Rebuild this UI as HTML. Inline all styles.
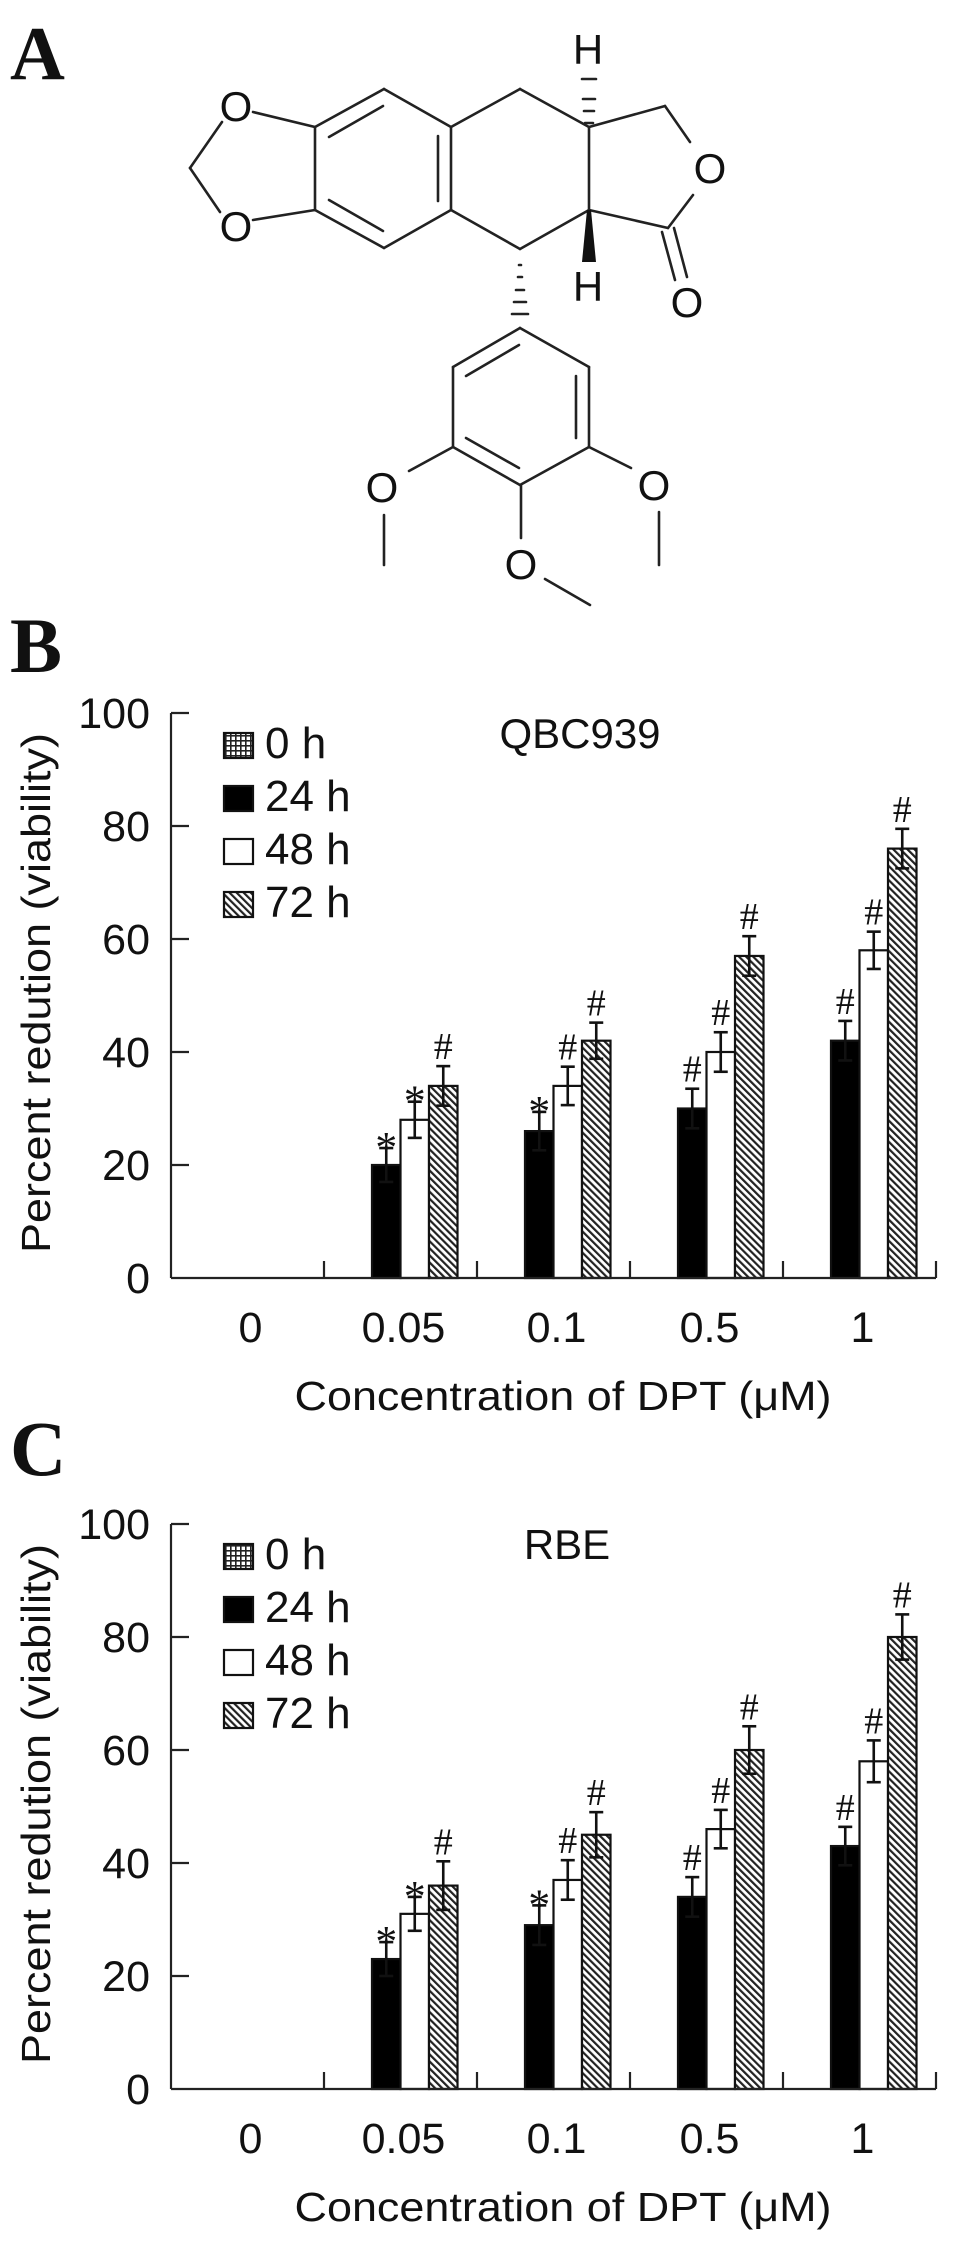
<!DOCTYPE html>
<html><head><meta charset="utf-8"><style>
html,body{margin:0;padding:0;background:#fff;}
svg{display:block;}
text{font-family:"Liberation Sans",Arial,sans-serif;fill:#111;}
.serif{font-family:"Liberation Serif","Times New Roman",serif;}
</style></head><body>
<svg id="fig" width="969" height="2256" viewBox="0 0 969 2256" xmlns="http://www.w3.org/2000/svg">
<defs>
<pattern id="hatch" patternUnits="userSpaceOnUse" width="5" height="5" patternTransform="rotate(-45)">
<rect width="5" height="5" fill="#fff"/><rect width="2.2" height="5" fill="#222"/>
</pattern>
<pattern id="grid" patternUnits="userSpaceOnUse" width="5" height="5">
<rect width="5" height="5" fill="#fff"/><rect width="5" height="1.6" fill="#222"/><rect width="1.6" height="5" fill="#222"/>
</pattern>
</defs>

<text class="serif" x="10" y="79" font-size="76" font-weight="bold">A</text>
<g stroke="#222" stroke-width="2.6" fill="none" stroke-linecap="round">
<line x1="253" y1="112" x2="315" y2="127"/>
<line x1="253" y1="220" x2="315" y2="210"/>
<line x1="222" y1="122" x2="190" y2="168"/>
<line x1="190" y1="168" x2="220" y2="212"/>
<line x1="315" y1="127" x2="384" y2="89"/>
<line x1="384" y1="89" x2="451" y2="127"/>
<line x1="451" y1="127" x2="451" y2="210"/>
<line x1="451" y1="210" x2="384" y2="248"/>
<line x1="384" y1="248" x2="315" y2="210"/>
<line x1="315" y1="210" x2="315" y2="127"/>
<line x1="329" y1="137" x2="383" y2="106"/>
<line x1="438" y1="136" x2="438" y2="201"/>
<line x1="329" y1="200" x2="383" y2="231"/>
<line x1="451" y1="127" x2="520" y2="89"/>
<line x1="520" y1="89" x2="589" y2="127"/>
<line x1="589" y1="127" x2="589" y2="210"/>
<line x1="589" y1="210" x2="520" y2="249"/>
<line x1="520" y1="249" x2="451" y2="210"/>
<line x1="589" y1="127" x2="665" y2="106"/>
<line x1="665" y1="106" x2="690" y2="142"/>
<line x1="693" y1="195" x2="668" y2="228"/>
<line x1="668" y1="228" x2="589" y2="210"/>
<line x1="662" y1="232" x2="675" y2="280"/>
<line x1="674" y1="228" x2="687" y2="277"/>
<line x1="520" y1="328" x2="453" y2="367"/>
<line x1="520" y1="328" x2="589" y2="367"/>
<line x1="589" y1="367" x2="589" y2="447"/>
<line x1="589" y1="447" x2="520" y2="485"/>
<line x1="520" y1="485" x2="453" y2="447"/>
<line x1="453" y1="447" x2="453" y2="367"/>
<line x1="466" y1="376" x2="519" y2="345"/>
<line x1="576" y1="376" x2="576" y2="438"/>
<line x1="466" y1="438" x2="519" y2="468"/>
<line x1="453" y1="447" x2="409" y2="471"/>
<line x1="589" y1="447" x2="631" y2="468"/>
<line x1="521" y1="485" x2="521" y2="538"/>
<line x1="384" y1="515" x2="384" y2="565"/>
<line x1="659" y1="512" x2="659" y2="565"/>
<line x1="545" y1="579" x2="590" y2="605"/>
<line x1="585" y1="123" x2="593" y2="123"/>
<line x1="584" y1="111" x2="594" y2="111"/>
<line x1="583" y1="99" x2="595" y2="99"/>
<line x1="582" y1="79" x2="596" y2="79"/>
<line x1="519" y1="265" x2="521" y2="265"/>
<line x1="518" y1="277" x2="522" y2="277"/>
<line x1="516" y1="290" x2="524" y2="290"/>
<line x1="514" y1="302" x2="526" y2="302"/>
<line x1="512" y1="314" x2="528" y2="314"/>
</g>
<polygon points="587,210 591,210 596,262 582,262" fill="#111"/>
<g font-size="42" text-anchor="middle">
<text x="236" y="121">O</text>
<text x="236" y="241">O</text>
<text x="710" y="183">O</text>
<text x="687" y="317">O</text>
<text x="588" y="64">H</text>
<text x="588" y="301">H</text>
<text x="382" y="502">O</text>
<text x="654" y="500">O</text>
<text x="521" y="579">O</text>
</g>

<g id="chartB"></g>
<g id="chartC"></g>
</svg>
<script>
const categories = ["0", "0.05", "0.1", "0.5", "1"];
const seriesNames = ["0 h", "24 h", "48 h", "72 h"];
const yTicks = [0, 20, 40, 60, 80, 100];
const qbc0h = [0, 0, 0, 0, 0];
const qbc24h = [0, 20, 26, 30, 42];
const qbc48h = [0, 28, 34, 40, 58];
const qbc72h = [0, 34, 42, 57, 76];
const qbc24hErr = [0, 3, 3.4, 3.5, 3.5];
const qbc48hErr = [0, 3.2, 3.4, 3.5, 3.3];
const qbc72hErr = [0, 3.5, 3.2, 3.5, 3.5];
const rbe0h = [0, 0, 0, 0, 0];
const rbe24h = [0, 23, 29, 34, 43];
const rbe48h = [0, 31, 37, 46, 58];
const rbe72h = [0, 36, 45, 60, 80];
const rbe24hErr = [0, 3, 3.5, 3.5, 3.4];
const rbe48hErr = [0, 3, 3.5, 3.4, 3.7];
const rbe72hErr = [0, 4.3, 4, 4.2, 4];
const marks24h = ["", "*", "*", "#", "#"];
const marks48h = ["", "*", "#", "#", "#"];
const marks72h = ["", "#", "#", "#", "#"];

const NS = "http://www.w3.org/2000/svg";
function mk(parent, tag, attrs, txt) {
  const e = document.createElementNS(NS, tag);
  for (const k in attrs) e.setAttribute(k, attrs[k]);
  if (txt !== undefined) e.textContent = txt;
  parent.appendChild(e);
  return e;
}

function drawChart(gid, off, panel, title, titleX, vals, errs, panelY) {
  const g = document.getElementById(gid);
  const x0 = 171, catW = 153, base = 1278 + off, yTop = 713 + off;
  const ys = v => base - (v / 100) * (base - yTop);
  const xc = i => x0 + catW * (i + 0.5);
  const barW = 28.5;
  const fills = ["url(#grid)", "#000", "#fff", "url(#hatch)"];

  let t = mk(g, "text", {x: 10, y: panelY, "font-size": 78, "font-weight": "bold", class: "serif"}, panel);
  
  

  t = mk(g, "text", {x: titleX, y: 748 + off, "font-size": 42, "text-anchor": "middle"}, title);
  
  

  for (let s = 0; s < 4; s++) {
    for (let i = 0; i < categories.length; i++) {
      const v = vals[s][i];
      if (v <= 0) continue;
      const bx = xc(i) - 2 * barW + s * barW;
      const r = mk(g, "rect", {x: bx, y: ys(v), width: barW, height: base - ys(v), fill: fills[s], stroke: "#111", "stroke-width": 2.2});
      
      
    }
  }
  const marks = [null, marks24h, marks48h, marks72h];
  for (let s = 1; s < 4; s++) {
    for (let i = 0; i < categories.length; i++) {
      const v = vals[s][i];
      if (v <= 0) continue;
      const cx = xc(i) - 2 * barW + s * barW + barW / 2;
      const e = errs[s][i];
      const eg = mk(g, "g", {stroke: "#111", "stroke-width": 2.6});
      
      
      mk(eg, "line", {x1: cx, x2: cx, y1: ys(v + e), y2: ys(v - e)});
      mk(eg, "line", {x1: cx - 7, x2: cx + 7, y1: ys(v + e), y2: ys(v + e)});
      mk(eg, "line", {x1: cx - 7, x2: cx + 7, y1: ys(v - e), y2: ys(v - e)});
      const m = marks[s][i];
      if (m) {
        const isStar = m === "*";
        const mt = mk(g, "text", {x: cx, y: ys(v + e) - (isStar ? -14 : 7), "font-size": isStar ? 44 : 38, "text-anchor": "middle", class: "serif"}, m);
        
        
      }
    }
  }
  const ax = mk(g, "g", {stroke: "#222", "stroke-width": 2.2, fill: "none"});
  
  
  mk(ax, "line", {x1: x0, x2: x0, y1: yTop, y2: base});
  mk(ax, "line", {x1: x0, x2: x0 + catW * categories.length, y1: base, y2: base});
  for (let i = 1; i <= categories.length; i++) {
    mk(ax, "line", {x1: x0 + catW * i, x2: x0 + catW * i, y1: base, y2: base - 17});
  }
  yTicks.forEach(v => {
    if (v > 0) mk(ax, "line", {x1: x0, x2: x0 + 18, y1: ys(v), y2: ys(v)});
    const tl = mk(g, "text", {x: 150, y: ys(v) + 15, "font-size": 43, "text-anchor": "end"}, String(v));
    
    
  });
  categories.forEach((c, i) => {
    const tl = mk(g, "text", {x: xc(i) + 3, y: base + 64, "font-size": 43, "text-anchor": "middle"}, c);
    
    
  });
  t = mk(g, "text", {x: 563, y: base + 132, "font-size": 41, "text-anchor": "middle", textLength: 537, lengthAdjust: "spacingAndGlyphs"}, "Concentration of DPT (\u03bcM)");
  
  
  t = mk(g, "text", {x: 0, y: 0, "font-size": 41, "text-anchor": "middle", textLength: 520, lengthAdjust: "spacingAndGlyphs", transform: `translate(50,${993 + off}) rotate(-90)`}, "Percent redution (viability)");
  
  
  const lg = mk(g, "g", {});
  
  
  seriesNames.forEach((n, s) => {
    const ly = 733 + off + s * 53;
    const b = mk(lg, "rect", {x: 224, y: ly, width: 29, height: 25, fill: fills[s], stroke: "#111", "stroke-width": 2.2});
    
    
    const lt = mk(lg, "text", {x: 265, y: ly + 25, "font-size": 44}, n);
    
    
  });
}

drawChart("chartB", 0, "B", "QBC939", 580,
  [qbc0h, qbc24h, qbc48h, qbc72h], [null, qbc24hErr, qbc48hErr, qbc72hErr], 672);
drawChart("chartC", 811, "C", "RBE", 567,
  [rbe0h, rbe24h, rbe48h, rbe72h], [null, rbe24hErr, rbe48hErr, rbe72hErr], 1475);
</script>
</body></html>
